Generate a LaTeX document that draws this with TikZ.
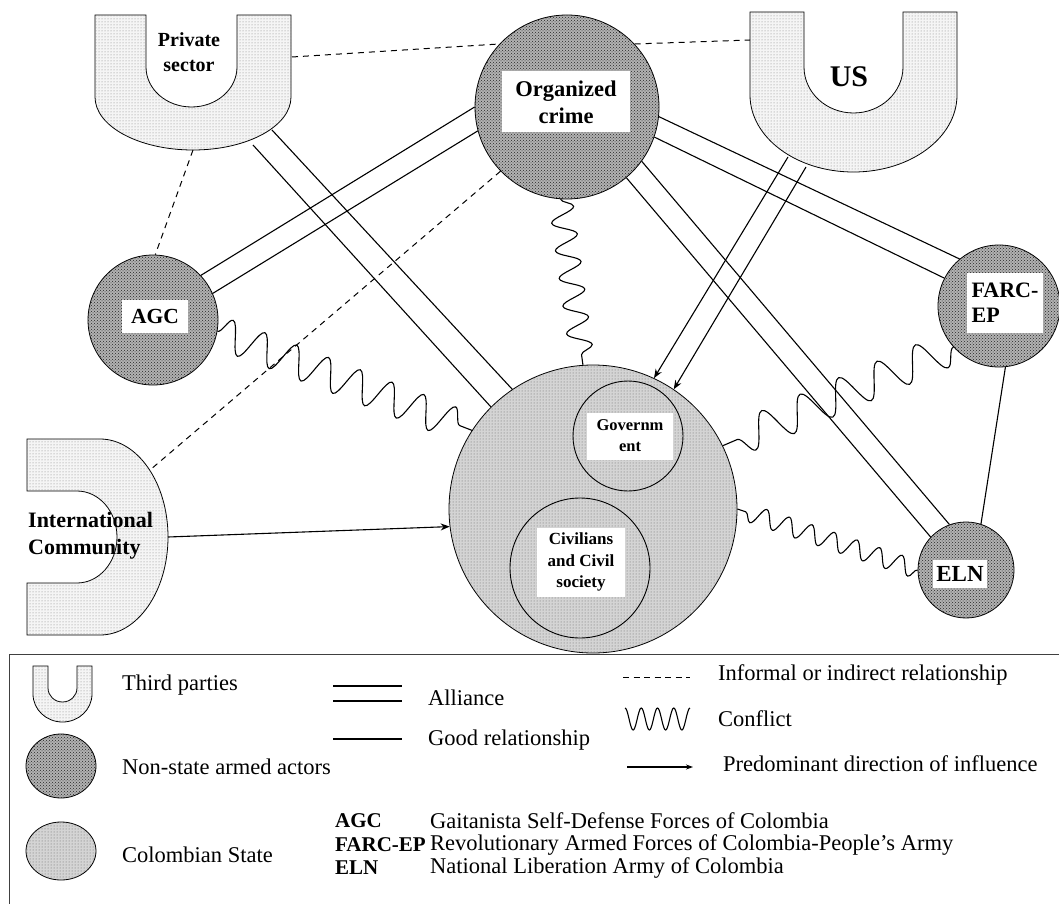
\documentclass[tikz,border=0pt]{standalone}
\usepackage{fontspec}
\setmainfont{Liberation Serif}
\usetikzlibrary{shapes.geometric,decorations.pathmorphing,arrows.meta,patterns}
\begin{document}
\begin{tikzpicture}[x=1pt,y=-1pt,
  every node/.style={inner sep=0pt},
  tie/.style={line width=1.1pt},
  nsa/.style={circle,draw=black,line width=0.8pt,fill=black!30,postaction={pattern=crosshatch dots,pattern color=black!85}},
  stt/.style={circle,draw=black,line width=0.8pt,fill=black!17,postaction={pattern=dots,pattern color=black!60}},
  subc/.style={circle,draw=black,line width=0.9pt},
  tp/.style={draw=black,line width=0.8pt,fill=black!4,postaction={pattern=dots,pattern color=black!50}},
  lbl/.style={fill=white,align=center},
  infl/.style={line width=1pt,dash pattern=on 6pt off 5pt},
  conf/.style={line width=1.1pt,decorate},
  inflarrow/.style={line width=1.1pt,-{Stealth[length=9pt,width=7pt]}},
  legtxt/.style={anchor=west,font=\fontsize{22.5}{26}\selectfont},
  legbold/.style={anchor=west,font=\fontsize{21}{25}\selectfont\bfseries},
]
\useasboundingbox (0,0) rectangle (1059,904);

% Colombian state
\node[stt,minimum size=288] (state) at (593,509) {};
\node[subc,minimum size=110] (gov) at (628,436) {};
\node[subc,minimum size=140] (civ) at (580,568) {};

% non-state armed actors
\node[nsa,minimum size=184] (oc) at (567,107) {};
\node[nsa,minimum size=130] (agc) at (153,320) {};
\node[nsa,minimum size=122] (farc) at (999,306) {};
\node[nsa,minimum size=96] (eln) at (966,570) {};

% third parties
\draw[tp] (95,15) -- (95,97) arc[start angle=180,end angle=0,x radius=98,y radius=53] -- (291,15) -- (237,15) -- (237,67) arc[start angle=0,end angle=180,x radius=45.5,y radius=40] -- (146,15) -- cycle;
\draw[tp] (750,12) -- (750,95) arc[start angle=180,end angle=0,x radius=103.5,y radius=77] -- (957,12) -- (903,12) -- (903,67) arc[start angle=0,end angle=180,x radius=49.5,y radius=46] -- (804,12) -- cycle;
\draw[tp] (27,491) -- (27,439) -- (100,439) arc[start angle=-90,end angle=90,x radius=68,y radius=98] -- (27,635) -- (27,583) -- (77,583) arc[start angle=90,end angle=-90,x radius=40,y radius=46] -- cycle;

\coordinate (ps-a) at (253,145);
\coordinate (ps-b) at (272,130);
\coordinate (ps-r) at (292,57);
\coordinate (ps-bot) at (193,150);
\coordinate (us-a) at (788,157);
\coordinate (us-b) at (806,167);
\coordinate (us-l) at (750,40);
\coordinate (ic-r) at (168,537);
\coordinate (ic-t) at (150,470);

% connectors
\draw[tie] (ps-a) -- (state.135);
\draw[tie] (ps-b) -- (state.124);
\draw[tie] (agc.43) -- (oc.180);
\draw[tie] (agc.24) -- (oc.195);
\draw[tie] (oc.-6.5) -- (farc.130);
\draw[tie] (oc.-19) -- (farc.153);
\draw[tie] (oc.-50) -- (eln.137);
\draw[tie] (oc.-36) -- (eln.110);
\draw[tie] (farc.-84) -- (eln.72);
\draw[inflarrow] (us-a) -- (state.65);
\draw[inflarrow] (us-b) -- (state.56);
\draw[inflarrow] (ic-r) -- (state.187);
\draw[infl] (ps-r) -- (oc.137);
\draw[infl] (oc.43) -- (us-l);
\draw[infl] (ps-bot) -- (agc.88);
\draw[infl] (oc.224) -- (ic-t);
\draw[conf,decoration={snake,segment length=34.1pt,amplitude=16pt}] (agc.-10) -- (state.147);
\draw[conf,decoration={snake,segment length=27.9pt,amplitude=12pt}] (oc.-94) -- (state.94);
\draw[conf,decoration={snake,segment length=41.8pt,amplitude=17pt}] (farc.222) -- (state.26);
\draw[conf,decoration={snake,segment length=23.8pt,amplitude=9pt}] (eln.180) -- (state.0);

% labels
\node[lbl,minimum width=128,minimum height=61,font=\fontsize{22.5}{27}\selectfont\bfseries] (ocl) at (566,102) {Organized\\crime};
\node[lbl,minimum width=66,minimum height=33,font=\fontsize{21.5}{24}\selectfont\bfseries] (agcl) at (155,316) {AGC};
\node[lbl,align=left,minimum width=76,minimum height=60,font=\fontsize{22}{25}\selectfont\bfseries] (farcl) at (1005,303) {FARC-\\EP};
\node[lbl,minimum width=54,minimum height=28,font=\fontsize{23}{25}\selectfont\bfseries] (elnl) at (960,574) {ELN};
\node[lbl,minimum width=86,minimum height=47,font=\fontsize{16.5}{21}\selectfont\bfseries] (govl) at (630,436) {Governm\\ent};
\node[lbl,minimum width=88,minimum height=69,font=\fontsize{17}{21.5}\selectfont\bfseries] (civl) at (581,562) {Civilians\\and Civil\\society};
\node[align=center,font=\fontsize{20}{25}\selectfont\bfseries] (psl) at (189,52) {Private\\sector};
\node[font=\fontsize{30}{34}\selectfont\bfseries] (usl) at (849,77) {US};
\node[anchor=west,align=left,font=\fontsize{22}{27}\selectfont\bfseries] (icl) at (28,536) {International\\Community};

% legend
\draw[line width=0.9pt,black!75] (1059,654) -- (9,654) -- (9,904);
\draw[tp] (33,666) -- (33,694) arc[start angle=180,end angle=0,x radius=29.5,y radius=28] -- (92,666) -- (77,666) -- (77,688) arc[start angle=0,end angle=180,x radius=14.5,y radius=14] -- (48,666) -- cycle;
\node[nsa,ellipse,minimum width=70,minimum height=64] (lgnsa) at (61,766) {};
\node[stt,ellipse,minimum width=70,minimum height=58] (lgstt) at (61,851) {};
\node[legtxt] (t1) at (122,685) {Third parties};
\node[legtxt] (t2) at (122,767) {Non-state armed actors};
\node[legtxt] (t3) at (122,855) {Colombian State};

\coordinate (la1) at (333,686); \coordinate (la2) at (402,686);
\coordinate (lb1) at (333,701); \coordinate (lb2) at (402,701);
\coordinate (lc1) at (333,739); \coordinate (lc2) at (402,739);
\draw[tie] (la1) -- (la2);
\draw[tie] (lb1) -- (lb2);
\draw[tie] (lc1) -- (lc2);
\node[legtxt] (t4) at (428,698) {Alliance};
\node[legtxt] (t5) at (428,740) {Good relationship};

\coordinate (ld1) at (623,677); \coordinate (ld2) at (690,677);
\coordinate (lf1) at (627,767); \coordinate (lf2) at (693,767);
\draw[line width=1pt,dash pattern=on 6pt off 4.5pt] (ld1) -- (ld2);
\draw[line width=1.1pt] plot[domain=0:4,samples=81,smooth] ({625+\x*16.25},{719-11*cos(\x*360)});
\draw[line width=1.1pt,-{Stealth[length=7pt,width=5pt]}] (lf1) -- (lf2);
\node[legtxt] (t6) at (718,675) {Informal or indirect relationship};
\node[legtxt] (t7) at (718,719) {Conflict};
\node[legtxt] (t8) at (723,764) {Predominant direction of influence};

\node[legbold] (a1) at (335,821) {AGC};
\node[legbold] (a2) at (335,845) {FARC-EP};
\node[legbold] (a3) at (335,868) {ELN};
\node[legtxt] (d1) at (430,821) {Gaitanista Self-Defense Forces of Colombia};
\node[legtxt] (d2) at (430,845) {Revolutionary Armed Forces of Colombia-People’s Army};
\node[legtxt] (d3) at (430,868) {National Liberation Army of Colombia};
\end{tikzpicture}
\end{document}
